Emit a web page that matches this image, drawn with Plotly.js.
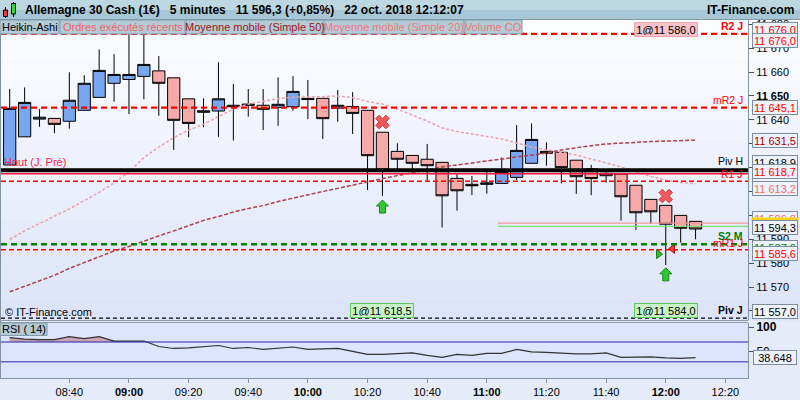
<!DOCTYPE html>
<html>
<head>
<meta charset="utf-8">
<script src="https://cdn.plot.ly/plotly-3.0.1.min.js"></script>
<style>
  html, body { margin: 0; padding: 0; background: #fff; }
  #chart { width: 800px; height: 400px; }
</style>
</head>
<body>
<div id="chart"></div>
<script>
// ---------------------------------------------------------------------------
// DAX 5 minutes, Heikin-Ashi, 22 oct. 2018
// ---------------------------------------------------------------------------
var day = '2018-10-22 ';

var times = ['08:20', '08:25', '08:30', '08:35', '08:40', '08:45', '08:50', '08:55',
             '09:00', '09:05', '09:10', '09:15', '09:20', '09:25', '09:30', '09:35',
             '09:40', '09:45', '09:50', '09:55', '10:00', '10:05', '10:10', '10:15',
             '10:20', '10:25', '10:30', '10:35', '10:40', '10:45', '10:50', '10:55',
             '11:00', '11:05', '11:10', '11:15', '11:20', '11:25', '11:30', '11:35',
             '11:40', '11:45', '11:50', '11:55', '12:00', '12:05', '12:10'];

var open  = [11621.1, 11632.9, 11640.3, 11640.6, 11639.4, 11644.0, 11649.4, 11655.3,
             11656.9, 11658.2, 11660.5, 11657.6, 11648.8, 11643.8, 11643.7, 11646.1,
             11646.6, 11646.1, 11645.2, 11645.5, 11649.0, 11649.0, 11644.9, 11645.6,
             11644.0, 11634.8, 11626.8, 11625.1, 11623.5, 11622.2, 11615.5, 11613.0,
             11613.0, 11613.4, 11615.9, 11621.8, 11626.8, 11626.4, 11623.1, 11619.5,
             11617.6, 11617.3, 11612.6, 11606.7, 11604.2, 11600.0, 11597.5];
var high  = [11652.9, 11653.6, 11644.5, 11640.6, 11659.9, 11658.7, 11669.5, 11667.5,
             11678.0, 11679.0, 11666.7, 11657.6, 11648.8, 11649.0, 11664.1, 11655.0,
             11652.9, 11652.9, 11657.8, 11658.3, 11656.7, 11649.0, 11652.5, 11651.6,
             11644.0, 11634.8, 11630.2, 11625.1, 11629.9, 11622.2, 11617.7, 11616.5,
             11618.3, 11624.3, 11637.8, 11638.5, 11630.6, 11626.4, 11623.1, 11621.1,
             11619.0, 11617.3, 11612.6, 11606.7, 11604.2, 11600.0, 11597.5];
var low   = [11621.1, 11632.9, 11637.1, 11634.4, 11636.3, 11644.0, 11649.4, 11647.6,
             11642.4, 11648.6, 11641.7, 11627.4, 11632.7, 11636.9, 11632.9, 11631.3,
             11641.3, 11635.7, 11637.5, 11643.8, 11640.3, 11632.0, 11639.2, 11634.1,
             11610.6, 11608.1, 11619.0, 11617.6, 11614.5, 11594.9, 11602.0, 11608.5,
             11609.1, 11613.4, 11614.8, 11621.8, 11620.8, 11613.4, 11609.0, 11608.5,
             11613.7, 11597.8, 11593.9, 11596.4, 11579.2, 11588.6, 11590.0];
var close = [11644.8, 11647.3, 11641.1, 11638.1, 11648.2, 11655.3, 11660.7, 11659.0,
             11659.0, 11663.2, 11655.3, 11639.8, 11638.5, 11643.2, 11648.8, 11645.5,
             11646.1, 11644.4, 11646.5, 11651.9, 11648.5, 11640.5, 11646.1, 11642.7,
             11625.0, 11619.0, 11623.5, 11621.8, 11620.8, 11608.2, 11610.3, 11612.4,
             11613.6, 11618.3, 11627.2, 11631.8, 11626.0, 11620.0, 11616.2, 11615.4,
             11616.6, 11607.8, 11601.1, 11601.5, 11596.3, 11594.6, 11594.3];

var sma20 = [11589.9, 11593.5, 11596.6, 11599.7, 11602.7, 11606.2, 11609.6, 11613.6,
             11618.2, 11624.2, 11628.6, 11632.6, 11635.7, 11638.2, 11641.4, 11644.5,
             11646.6, 11647.9, 11648.9, 11649.5, 11649.5, 11649.7, 11650.0, 11649.3,
             11647.7, 11646.6, 11644.5, 11642.0, 11639.5, 11636.6, 11635.1, 11634.1,
             11633.2, 11632.0, 11630.3, 11628.6, 11627.4, 11626.3, 11625.3, 11623.6,
             11622.1, 11620.3, 11618.2, 11616.3, 11614.8, 11613.8, 11613.2];
var sma50 = [11568.0, 11570.3, 11572.6, 11574.9, 11577.8, 11580.3, 11582.8, 11585.1,
             11587.0, 11589.3, 11591.4, 11593.5, 11595.8, 11597.9, 11599.5, 11601.4,
             11602.9, 11604.1, 11605.8, 11607.3, 11608.5, 11610.0, 11611.3, 11612.5,
             11614.0, 11615.4, 11616.7, 11617.9, 11619.2, 11620.3, 11621.1, 11621.9,
             11622.6, 11623.4, 11624.2, 11625.3, 11626.1, 11627.4, 11628.4, 11629.2,
             11629.9, 11630.3, 11630.7, 11630.9, 11631.1, 11631.3, 11631.5];

var rsi = [79, 76, 75, 75, 81, 77, 81, 72, 72, 72, 61, 57, 58, 60, 63, 57,
           59, 55, 57, 60, 55, 56, 57, 51, 45, 45, 46, 48, 43, 39, 45, 43,
           47, 47, 55, 50, 49, 47, 46, 46, 48, 39, 39, 40, 38, 37, 38.648];

// levels (pivots, previous day high, executed orders)
var levelNames  = ['R2 J', 'mR2 J', 'Piv H', 'Haut (J. Pré)', 'R1 J', 'S2 M', 'mR1 J', 'Piv J'];
var levelValues = [11676.0, 11645.1, 11618.9, 11618.7, 11614.3, 11587.9, 11585.6, 11557.0];
var orderLineValues = [11596.8, 11595.4];

// price boxes on the right scale
var boxText   = ['11 676,0', '11 676,0', '11 645,1', '11 631,5', '11 618,9', '11 618,7', '11 614,3',
                 '11 613,2', '11 596,8', '11 594,3', '11 587,9', '11 585,6', '11 557,0'];
var boxValues = [11676.0, 11676.0, 11645.1, 11631.5, 11618.9, 11618.7, 11614.3,
                 11613.2, 11596.8, 11594.3, 11587.9, 11585.6, 11557.0];
var rsiBoxText = '38,648';

// executed orders
var orderTags  = ['1@11 586,0', '1@11 618,5', '1@11 584,0'];
var orderTimes = ['12:00', '10:25', '12:00'];
var sellTimes  = ['10:25', '12:00'];
var sellPrices = [11639.1, 11608.1];
var buyTimes   = ['10:25', '12:00'];
var buyPrices  = [11603.5, 11575.1];
var flagTimes  = ['11:57:36', '12:02:18'];
var flagPrices = [11583.8, 11586.0];

// axes
var tickTimes  = ['08:40', '09:00', '09:20', '09:40', '10:00', '10:20', '10:40',
                  '11:00', '11:20', '11:40', '12:00', '12:20'];
var tickLabels = ['08:40', '<b>09:00</b>', '09:20', '09:40', '<b>10:00</b>', '10:20', '10:40',
                  '<b>11:00</b>', '11:20', '11:40', '<b>12:00</b>', '12:20'];
var priceTicks  = [11560, 11570, 11580, 11590, 11600, 11610, 11620, 11630, 11640, 11650, 11660, 11670, 11680];
var priceLabels = ['11 560', '11 570', '11 580', '11 590', '<b>11 600</b>', '11 610', '11 620',
                   '11 630', '11 640', '<b>11 650</b>', '11 660', '11 670', '11 680'];

// ---------------------------------------------------------------------------
function T(t) { return day + t; }
// pixel -> paper helpers (plot area: x 1..748, y 20..378)
function PX(x) { return (x - 1) / 747; }
function PY(y) { return (378 - y) / 358; }

var FONT = 'Liberation Sans, Arial, sans-serif';
var xs = times.map(T);

var candles = {
  type: 'candlestick', x: xs, open: open, high: high, low: low, close: close,
  increasing: { line: { color: '#000', width: 1 }, fillcolor: '#78a6f0' },
  decreasing: { line: { color: '#000', width: 1 }, fillcolor: '#f5a9a9' },
  whiskerwidth: 0, hoverinfo: 'skip', showlegend: false
};

var ma20 = { type: 'scatter', mode: 'lines', x: xs, y: sma20, showlegend: false, hoverinfo: 'skip',
  line: { color: '#eba2aa', width: 1.5, dash: '3px,2px' } };
var ma50 = { type: 'scatter', mode: 'lines', x: xs, y: sma50, showlegend: false, hoverinfo: 'skip',
  line: { color: '#b0404c', width: 1.5, dash: '4px,2px' } };

var sells = { type: 'scatter', mode: 'markers', x: sellTimes.map(T), y: sellPrices, showlegend: false,
  marker: { symbol: 'x', size: 12, color: '#f05a5a', line: { color: '#d03a3a', width: 1 } } };
var flags = { type: 'scatter', mode: 'markers', x: flagTimes.map(T), y: flagPrices, showlegend: false,
  marker: { symbol: ['triangle-right', 'triangle-left'], size: 8, color: ['#30c030', '#f04040'],
            line: { color: ['#108010', '#a01010'], width: 1 } } };

var rsiBase = { type: 'scatter', mode: 'lines', x: xs, y: rsi.map(function () { return 70; }),
  xaxis: 'x', yaxis: 'y2', line: { width: 0 }, showlegend: false, hoverinfo: 'skip' };
var rsiFill = { type: 'scatter', mode: 'lines', x: xs, y: rsi.map(function (v) { return Math.max(v, 70); }),
  xaxis: 'x', yaxis: 'y2', fill: 'tonexty', fillcolor: '#caa3b6', line: { width: 0 },
  showlegend: false, hoverinfo: 'skip' };
var rsiLine = { type: 'scatter', mode: 'lines', x: xs, y: rsi, xaxis: 'x', yaxis: 'y2',
  line: { color: '#333', width: 1.2 }, showlegend: false, hoverinfo: 'skip' };

// ---------------------------------------------------------------------------
var shapes = [];
var annotations = [];

// plain text note in paper pixels, anchored explicitly
function note(x, y, text, font, extra) {
  var a = { xref: 'paper', yref: 'paper', x: PX(x), y: PY(y), xanchor: 'center', yanchor: 'middle',
    showarrow: false, text: text, font: font };
  for (var key in extra) a[key] = extra[key];
  annotations.push(a);
}

// background gradients
var N = 15;
for (var i = 0; i < N; i++) {
  var f = i / (N - 1);
  var r = Math.round(252 - f * 31), g = Math.round(253 - f * 25), b = Math.round(255 - f * 6);
  shapes.push({ type: 'rect', xref: 'paper', yref: 'paper', layer: 'below',
    x0: PX(-5), x1: PX(805), y0: PY(20 + (i + 1) * 300 / N + 0.5), y1: PY(20 + i * 300 / N),
    fillcolor: 'rgb(' + r + ',' + g + ',' + b + ')', line: { width: 0 } });
}
shapes.push({ type: 'rect', xref: 'paper', yref: 'paper', layer: 'below',
  x0: PX(1), x1: PX(748), y0: PY(378), y1: PY(322), fillcolor: '#dce5fb', line: { width: 0 } });

// frame lines
shapes.push({ type: 'line', xref: 'paper', yref: 'paper', x0: PX(0), x1: PX(0), y0: PY(20), y1: PY(379),
  line: { color: '#8193a3', width: 2 } });
shapes.push({ type: 'line', xref: 'paper', yref: 'paper', x0: PX(0), x1: PX(748), y0: PY(320.5), y1: PY(320.5),
  line: { color: '#8a9aaa', width: 1 } });
shapes.push({ type: 'line', xref: 'paper', yref: 'paper', x0: PX(0), x1: PX(748), y0: PY(322.5), y1: PY(322.5),
  line: { color: '#8a9aaa', width: 1 } });

// level lines
var levelStyle = [
  { color: '#ff0000', width: 2.2, dash: '6px,4px' },
  { color: '#ff0000', width: 2.2, dash: '6px,4px' },
  { color: '#000000', width: 4, dash: 'solid' },
  { color: '#ff1040', width: 1.5, dash: 'solid', shift: -3 },
  { color: '#ff0000', width: 1.4, dash: '5px,3px' },
  { color: '#008000', width: 2.5, dash: '6px,4px' },
  { color: '#ff0000', width: 1.4, dash: '5px,3px' },
  { color: '#000000', width: 1.4, dash: '4px,3px' }
];
levelValues.forEach(function (v, k) {
  var s = levelStyle[k];
  if (s.shift) {
    shapes.push({ type: 'line', layer: 'above', xref: 'paper', yref: 'y', ysizemode: 'pixel', yanchor: v,
      x0: 0, x1: 1, y0: s.shift, y1: s.shift, line: { color: s.color, width: s.width } });
  } else {
    shapes.push({ type: 'line', layer: 'above', xref: 'paper', yref: 'y', x0: 0, x1: 1, y0: v, y1: v,
      line: { color: s.color, width: s.width, dash: s.dash } });
  }
});
// recent executed-order lines
var orderLineColors = ['#f39a9a', '#7de07d'];
orderLineValues.forEach(function (v, k) {
  shapes.push({ type: 'line', layer: 'above', xref: 'x', yref: 'y', x0: T('11:03:45'), x1: T('12:27:35'),
    y0: v, y1: v, line: { color: orderLineColors[k], width: 1.2 } });
});

// buy arrows (block arrows anchored at the data point)
buyTimes.forEach(function (t, k) {
  shapes.push({ type: 'path', layer: 'above', xref: 'x', yref: 'y', xsizemode: 'pixel', ysizemode: 'pixel',
    xanchor: T(t), yanchor: buyPrices[k],
    path: 'M0,7 L6,1 L3,1 L3,-6 L-3,-6 L-3,1 L-6,1 Z',
    fillcolor: '#36c436', line: { color: '#118811', width: 1 } });
});

// level labels
var levelLabelStyle = [
  { text: '<b>R2 J</b>', color: '#ff0000', left: false, dy: 0 },
  { text: 'mR2 J', color: '#ff0000', left: false, dy: 0 },
  { text: 'Piv H', color: '#000000', left: false, dy: 1 },
  { text: 'Haut (J. Pré)', color: '#ff1a4a', left: true, dy: 1 },
  { text: 'R1 J', color: '#ff0000', left: false, dy: -1 },
  { text: '<b>S2 M</b>', color: '#008000', left: false, dy: 0 },
  { text: 'mR1 J', color: '#ff0000', left: false, dy: -1 },
  { text: '<b>Piv J</b>', color: '#000000', left: false, dy: 0 }
];
levelValues.forEach(function (v, k) {
  var s = levelLabelStyle[k];
  annotations.push({ xref: 'paper', yref: 'y', x: s.left ? PX(2) : PX(745), y: v,
    xanchor: s.left ? 'left' : 'right', yanchor: 'bottom', yshift: s.dy, showarrow: false,
    text: s.text, font: { family: FONT, size: s.left ? 11 : 10.5, color: s.color } });
});

// order tags
var tagStyle = [
  { y: 29, bg: '#f6c3cb', border: '#eea3b0' },
  { y: 310, bg: '#c9f3c9', border: '#5cc85c' },
  { y: 310, bg: '#c9f3c9', border: '#5cc85c' }
];
orderTags.forEach(function (txt, k) {
  var s = tagStyle[k];
  annotations.push({ xref: 'x', yref: 'paper', x: T(orderTimes[k]), y: PY(s.y),
    xanchor: 'center', yanchor: 'middle', showarrow: false,
    text: txt, font: { family: FONT, size: 11, color: '#000' }, bgcolor: s.bg,
    bordercolor: s.border, borderwidth: 1, borderpad: 1, width: 60, height: 11 });
});

// price boxes on the right scale
var boxStyle = [
  { color: '#ff0000', dy: 4 }, { color: '#ff0000', dy: -7 }, { color: '#ff0000', dy: 0 },
  { color: '#a80000', dy: 0 }, { color: '#000000', dy: 8 }, { color: '#ff0000', dy: -1 },
  { color: '#ff0000', dy: -4 }, { color: '#f26a6a', dy: -5 }, { color: '#f26a6a', dy: 5 },
  { color: '#000000', dy: 1.3 }, { color: '#008000', dy: -3 }, { color: '#ff0000', dy: -3.5 },
  { color: '#000000', dy: 6.4 }
];
boxValues.forEach(function (v, k) {
  var s = boxStyle[k];
  annotations.push({ xref: 'paper', yref: 'y', x: PX(774.5), y: v, yshift: s.dy,
    xanchor: 'center', yanchor: 'middle', showarrow: false,
    text: boxText[k], font: { family: FONT, size: 11, color: s.color },
    bgcolor: '#eef2fa', bordercolor: '#7b8d9f', borderwidth: 1, borderpad: 1, width: 42, height: 11 });
  if (k === 8) {
    // yellow last-price marker sits between the two boxes
    note(774.5, 219.2, ' ', { size: 2 }, { bgcolor: '#f5d21c', borderpad: 0, width: 46, height: 3 });
  }
});
annotations.push({ xref: 'paper', yref: 'y2', x: PX(774.5), y: rsi[rsi.length - 1],
  xanchor: 'center', yanchor: 'middle', showarrow: false,
  text: rsiBoxText, font: { family: FONT, size: 11, color: '#000' },
  bgcolor: '#eef2fa', bordercolor: '#7b8d9f', borderwidth: 1, borderpad: 1, width: 40, height: 11 });

// RSI 70 / 30 lines
[70, 30].forEach(function (v) {
  shapes.push({ type: 'line', xref: 'paper', yref: 'y2', x0: 0, x1: 1, y0: v, y1: v,
    line: { color: '#2a2aa8', width: 1 } });
});

// title bar
shapes.push({ type: 'rect', layer: 'above', xref: 'paper', yref: 'paper', x0: PX(-5), x1: PX(805),
  y0: PY(10), y1: PY(-1), fillcolor: '#bcd6e2', line: { width: 0 } });
shapes.push({ type: 'rect', layer: 'above', xref: 'paper', yref: 'paper', x0: PX(-5), x1: PX(805),
  y0: PY(20), y1: PY(10), fillcolor: '#a7c7d6', line: { width: 0 } });
shapes.push({ type: 'line', layer: 'above', xref: 'paper', yref: 'paper', x0: PX(-5), x1: PX(805),
  y0: PY(19.5), y1: PY(19.5), line: { color: '#7f9aaa', width: 1 } });
// candle icon
shapes.push({ type: 'line', layer: 'above', xref: 'paper', yref: 'paper', x0: PX(5.5), x1: PX(5.5),
  y0: PY(18), y1: PY(7), line: { color: '#000', width: 1 } });
shapes.push({ type: 'rect', layer: 'above', xref: 'paper', yref: 'paper', x0: PX(3.5), x1: PX(7.5),
  y0: PY(16.5), y1: PY(10), fillcolor: '#e83a3a', line: { color: '#000', width: 1 } });
shapes.push({ type: 'line', layer: 'above', xref: 'paper', yref: 'paper', x0: PX(13.5), x1: PX(13.5),
  y0: PY(17), y1: PY(2), line: { color: '#000', width: 1 } });
shapes.push({ type: 'rect', layer: 'above', xref: 'paper', yref: 'paper', x0: PX(11.5), x1: PX(15.5),
  y0: PY(14), y1: PY(3.5), fillcolor: '#38d838', line: { color: '#000', width: 1 } });

var nb = '\u00a0\u00a0\u00a0';
note(23, 10, '<b>Allemagne 30 Cash (1€)' + nb + '5 minutes' + nb + '11 596,3 (+0,85%)' + nb +
  '22 oct. 2018 12:12:07</b>', { family: FONT, size: 12, color: '#000' }, { xanchor: 'left' });
note(796, 10, '<b>IT-Finance.com</b>', { family: FONT, size: 12, color: '#000' }, { xanchor: 'right' });

// toolbar buttons
var buttons = ['Heikin-Ashi', 'Ordres exécutés récents', 'Moyenne mobile (Simple 50)',
               'Moyenne mobile (Simple 20)', 'Volume CO'];
var buttonStyle = [
  { x0: 0, x1: 59, color: '#000000' }, { x0: 60, x1: 185, color: '#f26464' },
  { x0: 186, x1: 323, color: '#a01414' }, { x0: 324, x1: 464, color: '#f07878' },
  { x0: 465, x1: 522, color: '#f07878' }
];
buttons.forEach(function (txt, k) {
  var s = buttonStyle[k];
  shapes.push({ type: 'rect', layer: 'above', xref: 'paper', yref: 'paper', x0: PX(s.x0), x1: PX(s.x1),
    y0: PY(34), y1: PY(20), fillcolor: '#b2cbd6', line: { color: '#8299a8', width: 1 } });
  note((s.x0 + s.x1) / 2, 27, txt, { family: FONT, size: 11, color: s.color });
});

note(3, 312, '© IT-Finance.com', { family: FONT, size: 11, color: '#000' }, { xanchor: 'left' });

// RSI title box
shapes.push({ type: 'rect', layer: 'above', xref: 'paper', yref: 'paper', x0: PX(0), x1: PX(47),
  y0: PY(335.5), y1: PY(323), fillcolor: '#b3c9d5', line: { color: '#8299a8', width: 1 } });
note(23.5, 329, 'RSI ( 14)', { family: FONT, size: 11, color: '#000' });

// ---------------------------------------------------------------------------
var layout = {
  width: 800, height: 400,
  margin: { l: 1, r: 52, t: 20, b: 22, pad: 0 },
  paper_bgcolor: '#e5ebf9', plot_bgcolor: 'rgba(0,0,0,0)',
  separators: ', ',
  showlegend: false, boxgap: 0.18, boxgroupgap: 0,
  font: { family: FONT, size: 11, color: '#000' },
  xaxis: {
    type: 'date', anchor: 'y2', range: [T('08:17:05'), T('12:27:35')],
    tickvals: tickTimes.map(T), ticktext: tickLabels,
    ticks: 'outside', ticklen: 4, tickcolor: '#8193a3',
    showline: true, linecolor: '#8193a3', linewidth: 1,
    showgrid: false, zeroline: false, rangeslider: { visible: false },
    tickfont: { family: FONT, size: 11, color: '#000' }
  },
  yaxis: {
    domain: [PY(320), 1], range: [11556.2, 11681.8], side: 'right',
    tickvals: priceTicks, ticktext: priceLabels,
    ticks: 'outside', ticklen: 5, tickcolor: '#44525e',
    showline: true, linecolor: '#8193a3', linewidth: 1,
    showgrid: false, zeroline: false, fixedrange: true,
    tickfont: { family: FONT, size: 11, color: '#000' }
  },
  yaxis2: {
    domain: [0, PY(322.5)], range: [-2.6, 109.4], side: 'right',
    tickvals: [50, 100], ticktext: ['50', '<b>100</b>'],
    ticks: 'outside', ticklen: 5, tickcolor: '#44525e',
    showline: true, linecolor: '#8193a3', linewidth: 1,
    showgrid: false, zeroline: false,
    tickfont: { family: FONT, size: 12, color: '#000' }
  },
  shapes: shapes,
  annotations: annotations
};

Plotly.newPlot('chart', [candles, ma20, ma50, sells, flags, rsiBase, rsiFill, rsiLine], layout,
  { staticPlot: true, displayModeBar: false });
</script>
</body>
</html>
